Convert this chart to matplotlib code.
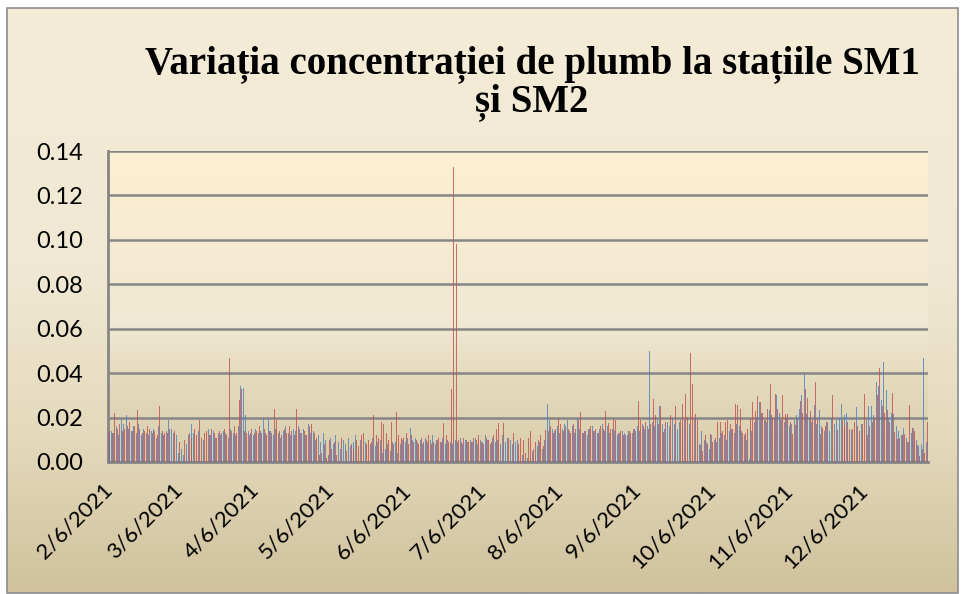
import numpy as np
import pandas as pd
import matplotlib
matplotlib.use('Agg')
import matplotlib.pyplot as plt
import matplotlib.dates as mdates
from matplotlib.colors import LinearSegmentedColormap
from matplotlib.patches import Rectangle

# daily values, 6 Feb 2021 .. 31 Dec 2021
dates = pd.date_range('2021-02-06', '2021-12-31', freq='D')

sm1 = [
    # Feb
    .013, .014, .013, .016, .012, .020, .017, .021, .015, .014, .016, .013, .017, .012, .015, .013,
    .012, .014, .015, .011, .016, .013, .012,
    # Mar
    .014, .019, .015, .013, .012, .004, .006, .003, .008, .012, .017, .013, .011, .014, .012, .010,
    .013, .015, .012, .014, .011, .013, .012, .014, .013, .011, .015, .013, .012, .016, .034,
    # Apr
    .0335, .021, .014, .013, .012, .015, .013, .014, .020, .013, .020, .014, .012, .015, .013,
    .011, .014, .016, .013, .012, .015, .014, .016, .013, .015, .012, .017, .013, .014, .010,
    # May
    .012, .009, .013, .010, .003, .011, .008, .012, .009, .006, .010, .008, .011, .007, .009, .012,
    .008, .010, .006, .009, .016, .008, .011, .007, .009, .010, .004, .006, .008, .005, .009,
    # Jun
    .009, .004, .008, .010, .009, .011, .0155, .010, .011, .009, .010, .008, .011, .009, .010,
    .012, .008, .010, .009, .011, .008, .010, .009, .008, .010, .009, .011, .008, .010, .009,
    # Jul
    .010, .009, .011, .008, .010, .009, .012, .010, .008, .011, .009, .010, .008, .012, .009, .011,
    .010, .008, .009, .010, .006, .003, .008, .002, .009, .005, .008, .007, .009, .006, .010,
    # Aug
    .026, .019, .015, .014, .016, .013, .015, .017, .019, .014, .016, .013, .0195, .015, .013, .014,
    .012, .015, .016, .014, .013, .015, .017, .014, .016, .013, .015, .014, .012, .013, .014,
    # Sep
    .013, .012, .014, .013, .015, .016, .014, .017, .015, .016, .050, .018, .016, .019, .025,
    .017, .015, .018, .016, .020, .017, .015, .018, .016, .019, .021, .017, .031, .020, .018,
    # Oct
    .008, .014, .010, .009, .006, .012, .010, .009, .011, .013, .012, .010, .014, .015, .013, .017,
    .016, .014, .012, .010, .0015, .014, .018, .020, .027, .022, .019, .018, .0235, .021, .020,
    # Nov
    .030, .022, .019, .018, .020, .016, .017, .019, .021, .024, .030, .0394, .0215, .020, .018,
    .0255, .017, .0235, .016, .014, .018, .014, .020, .017, .019, .020, .0263, .021, .022, .021,
    # Dec
    .0146, .016, .0248, .0188, .017, .0137, .019, .025, .025, .021, .036, .034, .028, .0452, .0326,
    .020, .022, .0216, .016, .014, .012, .0155, .011, .009, .013, .0152, .010, .007, .008, .047, .009,
]

sm2 = [
    # Feb
    .014, .013, .022, .015, .017, .014, .015, .016, .018, .014, .016, .0235, .015, .013, .014, .016,
    .015, .013, .014, .012, .025, .014, .013,
    # Mar
    .013, .015, .012, .014, .010, .009, .007, .010, .009, .013, .011, .015, .012, .019, .011, .013,
    .014, .012, .015, .013, .011, .014, .013, .015, .012, .047, .014, .016, .013, .028, .033,
    # Apr
    .014, .013, .012, .015, .013, .014, .016, .013, .015, .012, .014, .013, .024, .019, .014,
    .012, .015, .013, .016, .014, .012, .024, .015, .013, .014, .012, .016, .017, .013, .011,
    # May
    .003, .004, .008, .002, .010, .006, .009, .003, .007, .011, .013, .005, .009, .008, .006, .010,
    .007, .012, .013, .008, .010, .009, .021, .012, .011, .018, .017, .013, .010, .018, .008,
    # Jun
    .0225, .012, .011, .011, .013, .008, .012, .009, .010, .008, .011, .009, .010, .012, .008,
    .009, .010, .011, .009, .0175, .012, .009, .033, .133, .098, .010, .009, .011, .010, .009,
    # Jul
    .009, .011, .010, .012, .009, .008, .011, .010, .009, .012, .015, .0175, .011, .0175, .010, .011,
    .009, .013, .010, .008, .011, .010, .004, .011, .014, .006, .009, .010, .012, .007, .0145,
    # Aug
    .014, .016, .013, .015, .020, .017, .014, .016, .015, .013, .017, .015, .019, .0225, .013, .014,
    .015, .016, .014, .015, .013, .016, .015, .023, .0175, .015, .0195, .019, .013, .014, .012,
    # Sep
    .012, .014, .013, .015, .014, .0275, .019, .016, .018, .015, .017, .0285, .021, .017, .025,
    .0135, .018, .040, .021, .023, .025, .0165, .019, .026, .0305, .0204, .049, .035, .0215, .019,
    # Oct
    .0075, .005, .012, .008, .0128, .009, .011, .018, .018, .014, .018, .019, .017, .015, .026, .0255,
    .024, .013, .013, .015, .0195, .027, .023, .0295, .027, .022, .019, .024, .035, .020, .0305,
    # Nov
    .024, .019, .030, .0215, .0215, .018, .0127, .0165, .020, .0274, .022, .033, .029, .023, .019,
    .036, .020, .0128, .0155, .016, .018, .020, .030, .018, .0146, .017, .019, .016, .018, .015,
    # Dec
    .015, .018, .016, .014, .017, .0305, .012, .016, .018, .020, .030, .0424, .025, .022, .0235,
    .018, .031, .0137, .0103, .011, .012, .0128, .0092, .0256, .0152, .014, .0077, .0025, .006, .004, .018,
]

yticks = [0.00, 0.02, 0.04, 0.06, 0.08, 0.10, 0.12, 0.14]
title = 'Variația concentrației de plumb la stațiile SM1\nși SM2'

W, H = 965, 594
fig = plt.figure(figsize=(W / 100, H / 100), dpi=100, facecolor='white')

# chart area background with gradient and border
bg = fig.add_axes([0, 0, 1, 1], zorder=-2)
bg.set_xlim(0, W)
bg.set_ylim(H, 0)
bg.axis('off')
cm_bg = LinearSegmentedColormap.from_list(
    'bg', [(0, '#F5ECD7'), (0.45, '#F0E8D3'), (0.72, '#E4DABD'), (1, '#D1C29D')])
grad = np.linspace(0, 1, 256).reshape(-1, 1)
bg.imshow(grad, cmap=cm_bg, extent=[7, 958, 593, 8], aspect='auto')
bg.add_patch(Rectangle((7, 8), 951, 585, fill=False, ec='#8C8C8C', lw=1.2))

# plot area
x0, x1, y0, y1 = 108, 928, 151, 462
pos = [x0 / W, 1 - y1 / H, (x1 - x0) / W, (y1 - y0) / H]
pa = fig.add_axes(pos, zorder=-1)
cm_pa = LinearSegmentedColormap.from_list(
    'pa', [(0, '#FDEFD2'), (0.55, '#F0E8D3'), (0.75, '#E3D9BC'), (1, '#D9CDAB')])
pa.imshow(grad, cmap=cm_pa, extent=[0, 1, 0, 1], aspect='auto')
pa.set_xlim(0, 1)
pa.set_ylim(0, 1)
pa.axis('off')

ax = fig.add_axes(pos, zorder=1)
ax.patch.set_alpha(0)
off = pd.Timedelta(hours=4.5)
ax.bar(dates - off, sm1, width=0.38, color='#4F81BD', alpha=0.8, lw=0, zorder=3)
ax.bar(dates + off, sm2, width=0.38, color='#C0504D', alpha=0.8, lw=0, zorder=3)

ax.set_ylim(0, 0.14)
ax.set_xlim(dates[0] - pd.Timedelta(hours=12), dates[-1] + pd.Timedelta(hours=12))
ax.set_yticks(yticks)
ax.yaxis.set_major_formatter(plt.FormatStrFormatter('%.2f'))
ax.xaxis.set_major_locator(mdates.MonthLocator(bymonthday=6))
ax.xaxis.set_major_formatter(mdates.DateFormatter('%-m/%-d/%Y'))

ax.yaxis.grid(True, color='#868686', lw=1.8)
ax.set_axisbelow(True)
for s in ['top', 'right']:
    ax.spines[s].set_visible(False)
for s in ['left', 'bottom']:
    ax.spines[s].set_color('#868686')
    ax.spines[s].set_linewidth(2)

ax.tick_params(axis='y', length=0, pad=18, labelsize=17)
ax.tick_params(axis='x', length=0, pad=18, labelsize=16)
for lab in ax.get_yticklabels() + ax.get_xticklabels():
    lab.set_fontfamily('Lato')
for lab in ax.get_xticklabels():
    lab.set_rotation(45)
    lab.set_ha('right')
    lab.set_va('center')
    lab.set_rotation_mode('anchor')

fig.text(532 / W, 1 - 83 / H, title, ha='center', va='center', fontsize=28,
         fontweight='bold', family='Liberation Serif', linespacing=1.0)

fig.savefig('out.png', dpi=100, facecolor='white')
